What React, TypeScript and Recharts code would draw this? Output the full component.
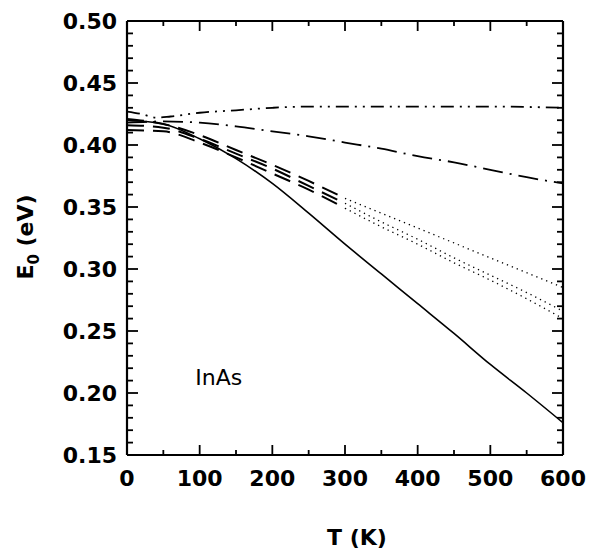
import React from 'react';
import { LineChart, Line, XAxis, YAxis, ReferenceDot } from 'recharts';

// ---- tick values ----
const xTicks = [0, 50, 100, 150, 200, 250, 300, 350, 400, 450, 500, 550, 600];
const yTicks = [
  0.15, 0.16, 0.17, 0.18, 0.19, 0.2, 0.21, 0.22, 0.23, 0.24, 0.25, 0.26, 0.27, 0.28, 0.29, 0.3,
  0.31, 0.32, 0.33, 0.34, 0.35, 0.36, 0.37, 0.38, 0.39, 0.4, 0.41, 0.42, 0.43, 0.44, 0.45, 0.46,
  0.47, 0.48, 0.49, 0.5,
];

// ---- series ----
const solidT = [0, 50, 100, 150, 200, 250, 300, 350, 400, 450, 500, 550, 600];
const solidE = [0.42, 0.417, 0.405, 0.389, 0.369, 0.345, 0.32, 0.296, 0.272, 0.248, 0.223, 0.2, 0.176];

const dashDotDotT = [0, 20, 40, 60, 100, 150, 200, 250, 300, 400, 500, 600];
const dashDotDotE = [0.427, 0.425, 0.422, 0.423, 0.426, 0.428, 0.43, 0.431, 0.431, 0.431, 0.431, 0.43];

const dashDotT = [0, 50, 100, 150, 200, 250, 300, 350, 400, 450, 500, 550, 600];
const dashDotE = [0.418, 0.419, 0.418, 0.415, 0.411, 0.407, 0.402, 0.397, 0.391, 0.386, 0.38, 0.374, 0.369];

const dashedT = [0, 50, 100, 150, 200, 250, 300];
const dashed1E = [0.421, 0.417, 0.408, 0.396, 0.384, 0.371, 0.357];
const dashed2E = [0.416, 0.414, 0.405, 0.393, 0.381, 0.367, 0.353];
const dashed3E = [0.412, 0.411, 0.402, 0.39, 0.377, 0.364, 0.349];

const dottedT = [300, 350, 400, 450, 500, 550, 600];
const dotted1E = [0.357, 0.345, 0.333, 0.321, 0.309, 0.297, 0.285];
const dotted2E = [0.353, 0.338, 0.324, 0.309, 0.295, 0.281, 0.266];
const dotted3E = [0.349, 0.334, 0.32, 0.305, 0.291, 0.276, 0.26];

const sampleName = 'InAs';
const sampleT = 94;
const sampleE = 0.213;

const toData = (ts: number[], es: number[]) => ts.map((t, i) => ({ t, e: es[i] }));

const FONT = 'DejaVu Sans, sans-serif';

const isMajorY = (v: number) => Math.round(v * 100) % 5 === 0;
const isMajorX = (v: number) => Math.round(v) % 100 === 0;

const LeftTick = (props: any) => {
  const { x, y, payload } = props;
  const v = payload.value;
  const major = isMajorY(v);
  return (
    <g>
      <line x1={x} y1={y} x2={x + (major ? 11 : 6)} y2={y} stroke="#000" strokeWidth={1.8} />
      {major && (
        <text x={x - 10} y={y} dy="0.36em" textAnchor="end" fontFamily={FONT} fontWeight="bold" fontSize={22} fill="#000">
          {v.toFixed(2)}
        </text>
      )}
    </g>
  );
};

const RightTick = (props: any) => {
  const { x, y, payload } = props;
  const major = isMajorY(payload.value);
  return <line x1={x} y1={y} x2={x - (major ? 11 : 6)} y2={y} stroke="#000" strokeWidth={1.8} />;
};

const BottomTick = (props: any) => {
  const { x, y, payload } = props;
  const v = payload.value;
  const major = isMajorX(v);
  return (
    <g>
      <line x1={x} y1={y} x2={x} y2={y - (major ? 10 : 5)} stroke="#000" strokeWidth={1.8} />
      {major && (
        <text x={x} y={y + 23} dy="0.36em" textAnchor="middle" fontFamily={FONT} fontWeight="bold" fontSize={22} fill="#000">
          {String(v)}
        </text>
      )}
    </g>
  );
};

const TopTick = (props: any) => {
  const { x, y, payload } = props;
  const major = isMajorX(payload.value);
  return <line x1={x} y1={y} x2={x} y2={y + (major ? 10 : 5)} stroke="#000" strokeWidth={1.8} />;
};

const XTitle = (props: any) => {
  const vb = props.viewBox;
  return (
    <text x={vb.x + 230} y={vb.y + 82} dy="0.36em" textAnchor="middle" fontFamily={FONT} fontWeight="bold" fontSize={22} fill="#000">
      T (K)
    </text>
  );
};

const YTitle = () => {
  const cx = 17;
  const cy = 229;
  return (
    <text x={cx} y={cy} dy="0.36em" textAnchor="middle" transform={`rotate(-90 ${cx} ${cy})`} fontFamily={FONT} fontWeight="bold" fontSize={22} fill="#000">
      <tspan>E</tspan>
      <tspan fontSize={15} dy="6">0</tspan>
      <tspan dy="-6"> (eV)</tspan>
    </text>
  );
};

const SampleLabel = (props: any) => {
  const vb = props.viewBox;
  return (
    <text x={vb.x} y={vb.y} dy="0.36em" textAnchor="start" fontFamily={FONT} fontSize={22} fill="#000">
      {sampleName}
    </text>
  );
};

export default function App() {
  return (
    <LineChart width={592} height={543} margin={{ top: 12, right: 36, left: 0, bottom: 0 }}>
      <XAxis
        xAxisId="b"
        dataKey="t"
        type="number"
        domain={[0, 600]}
        ticks={xTicks}
        interval={0}
        height={96}
        tickSize={0}
        tickMargin={0}
        tick={<BottomTick />}
        axisLine={{ stroke: '#000', strokeWidth: 2.2 }}
        allowDataOverflow
        label={<XTitle />}
      />
      <XAxis
        xAxisId="t"
        orientation="top"
        dataKey="t"
        type="number"
        domain={[0, 600]}
        ticks={xTicks}
        interval={0}
        height={1}
        tickSize={0}
        tickMargin={0}
        tick={<TopTick />}
        axisLine={{ stroke: '#000', strokeWidth: 2.2 }}
        allowDataOverflow
      />
      <YAxis
        yAxisId="l"
        type="number"
        domain={[0.15, 0.5]}
        ticks={yTicks}
        interval={0}
        width={119}
        tickSize={0}
        tickMargin={0}
        tick={<LeftTick />}
        axisLine={{ stroke: '#000', strokeWidth: 2.2 }}
        allowDataOverflow
        label={<YTitle />}
      />
      <YAxis
        yAxisId="r"
        orientation="right"
        type="number"
        domain={[0.15, 0.5]}
        ticks={yTicks}
        interval={0}
        width={1}
        tickSize={0}
        tickMargin={0}
        tick={<RightTick />}
        axisLine={{ stroke: '#000', strokeWidth: 2.2 }}
        allowDataOverflow
      />
      <Line xAxisId="b" yAxisId="l" data={toData(solidT, solidE)} dataKey="e" type="monotone" stroke="#000" strokeWidth={1.6} dot={false} isAnimationActive={false} />
      <Line xAxisId="b" yAxisId="l" data={toData(dashDotDotT, dashDotDotE)} dataKey="e" type="monotone" stroke="#000" strokeWidth={1.8} strokeDasharray="13 6 2 6 2 6" dot={false} isAnimationActive={false} />
      <Line xAxisId="b" yAxisId="l" data={toData(dashDotT, dashDotE)} dataKey="e" type="monotone" stroke="#000" strokeWidth={1.8} strokeDasharray="20 7 2 7" dot={false} isAnimationActive={false} />
      <Line xAxisId="b" yAxisId="l" data={toData(dashedT, dashed1E)} dataKey="e" type="monotone" stroke="#000" strokeWidth={2} strokeDasharray="17 9" dot={false} isAnimationActive={false} />
      <Line xAxisId="b" yAxisId="l" data={toData(dashedT, dashed2E)} dataKey="e" type="monotone" stroke="#000" strokeWidth={2} strokeDasharray="17 9" dot={false} isAnimationActive={false} />
      <Line xAxisId="b" yAxisId="l" data={toData(dashedT, dashed3E)} dataKey="e" type="monotone" stroke="#000" strokeWidth={2} strokeDasharray="17 9" dot={false} isAnimationActive={false} />
      <Line xAxisId="b" yAxisId="l" data={toData(dottedT, dotted1E)} dataKey="e" type="monotone" stroke="#000" strokeWidth={1.3} strokeDasharray="1.3 4" dot={false} isAnimationActive={false} />
      <Line xAxisId="b" yAxisId="l" data={toData(dottedT, dotted2E)} dataKey="e" type="monotone" stroke="#000" strokeWidth={1.3} strokeDasharray="1.3 4" dot={false} isAnimationActive={false} />
      <Line xAxisId="b" yAxisId="l" data={toData(dottedT, dotted3E)} dataKey="e" type="monotone" stroke="#000" strokeWidth={1.3} strokeDasharray="1.3 4" dot={false} isAnimationActive={false} />
      <ReferenceDot xAxisId="b" yAxisId="l" x={sampleT} y={sampleE} r={0} stroke="none" fill="none" label={<SampleLabel />} />
    </LineChart>
  );
}
